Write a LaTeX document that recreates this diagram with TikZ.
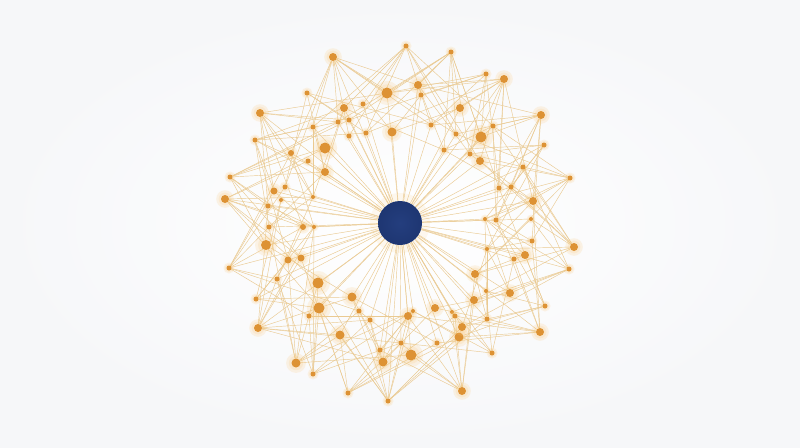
\documentclass[tikz,border=0pt]{standalone}
\usetikzlibrary{backgrounds}
\pgfdeclarelayer{paper}
\pgfsetlayers{paper,background,main}
\definecolor{dotorange}{RGB}{221,146,52}
\definecolor{dotglow}{RGB}{250,200,120}
\definecolor{edgecol}{RGB}{234,202,146}
\definecolor{hubcol}{RGB}{30,54,114}
\definecolor{hubin}{RGB}{36,62,126}
\definecolor{bgout}{RGB}{246,247,249}
\tikzset{
  dot/.style={circle,fill=dotorange,inner sep=0pt,draw=none},
  glow/.style={fill=dotglow,opacity=0.18},
  edge/.style={draw=edgecol,line width=0.45pt},
  hubglow/.style={fill=dotglow,opacity=0.12},
  hub/.style={circle,inner sep=0pt,minimum size=44pt,inner color=hubin,outer color=hubcol}
}
\def\XA{{533,570,511,499,523,544,541,480,470,493,481,504,456,444,486,460,451,431,421,418,406,392,387,363,366,333,344,349,349,338,307,313,325,260,325,308,291,255,285,313,230,274,281,225,268,269,303,314,266,229,288,301,277,256,318,258,319,309,296,352,313,340,359,370,348,380,383,388,401,411,408,413,437,462,435,459,452,455,462,492,487,474,486,540,475,510,545,514,487,569,525,532,574,485,496,531}}
\def\YA{{201,178,187,188,167,145,115,161,154,126,137,79,134,150,74,108,52,125,95,85,46,132,93,104,133,57,108,120,136,122,93,127,148,113,172,161,153,140,187,197,177,191,200,199,206,227,227,227,245,268,260,258,279,299,283,328,308,316,363,297,374,335,311,320,393,350,362,401,343,355,316,311,343,391,308,337,312,316,327,353,319,300,291,332,274,293,306,259,249,269,255,241,247,219,220,219}}
\def\RA{{4,2.5,2.5,2.5,2.5,2.5,4,4,2.5,2.5,5.5,4,2.5,2.5,2.5,4,2.5,2.5,2.5,4,2.5,4.5,5.5,2.5,2.5,4,4,2.5,2.5,2.5,2.5,2.5,5.5,4,4,2.5,3,2.5,2.5,2,2.5,3.5,2,4,2.5,2.5,3,2,5,2.5,3.5,3.5,2.5,2.5,5.5,4,5.5,2.5,4.5,4.5,2.5,4.5,2.5,2.5,2.5,2.5,4.5,2.5,2.5,5.5,4,2,2.5,4,4,4.5,2,2.5,4,2.5,2.5,4,2,4,4,4,2.5,2.5,2,2.5,4,2.5,4,2,2.5,2}}
\begin{document}
\begin{tikzpicture}[x=1pt,y=-1pt]
\begin{pgfonlayer}{paper}
\shade[inner color=white,outer color=bgout] (0,0) rectangle (800,447);
\fill[hubglow] (400,223) circle (30);
\end{pgfonlayer}
\useasboundingbox (0,0) rectangle (800,447);
% outer nodes, in angular order around the hub
\foreach \i in {1,...,96} {
  \pgfmathtruncatemacro\ii{\i-1}
  \pgfmathsetmacro\x{\XA[\ii]}
  \pgfmathsetmacro\y{\YA[\ii]}
  \pgfmathsetmacro\r{\RA[\ii]}
  \fill[glow] (\x,\y) circle ({2.2*\r});
  \fill[glow] (\x,\y) circle ({1.6*\r});
  \node[dot,minimum size={2*\r pt}] (p\i) at (\x,\y) {};
}
\node[hub] (hub) at (400,223) {};
\begin{scope}[on background layer]
\foreach \i in {1,...,96} {
  \pgfmathtruncatemacro\ii{\i-1}
  \pgfmathsetmacro\ri{veclen(\XA[\ii]-400,\YA[\ii]-223)}
  \foreach \k in {3,-4,6,-8,11,-13} {
    \pgfmathtruncatemacro\j{mod(\i-1+\k+96,96)+1}
    \pgfmathtruncatemacro\jj{\j-1}
    \pgfmathsetmacro\rj{veclen(\XA[\jj]-400,\YA[\jj]-223)}
    \pgfmathsetmacro\d{abs(\ri-\rj)}
    \ifdim\d pt>36pt \draw[edge] (p\i) -- (p\j); \fi
  }
  \pgfmathtruncatemacro\m{mod(\i,2)}
  \ifdim\ri pt<150pt \draw[edge] (hub) -- (p\i);
  \else \ifnum\m=0 \draw[edge] (hub) -- (p\i); \fi \fi
}
\end{scope}
\end{tikzpicture}
\end{document}
